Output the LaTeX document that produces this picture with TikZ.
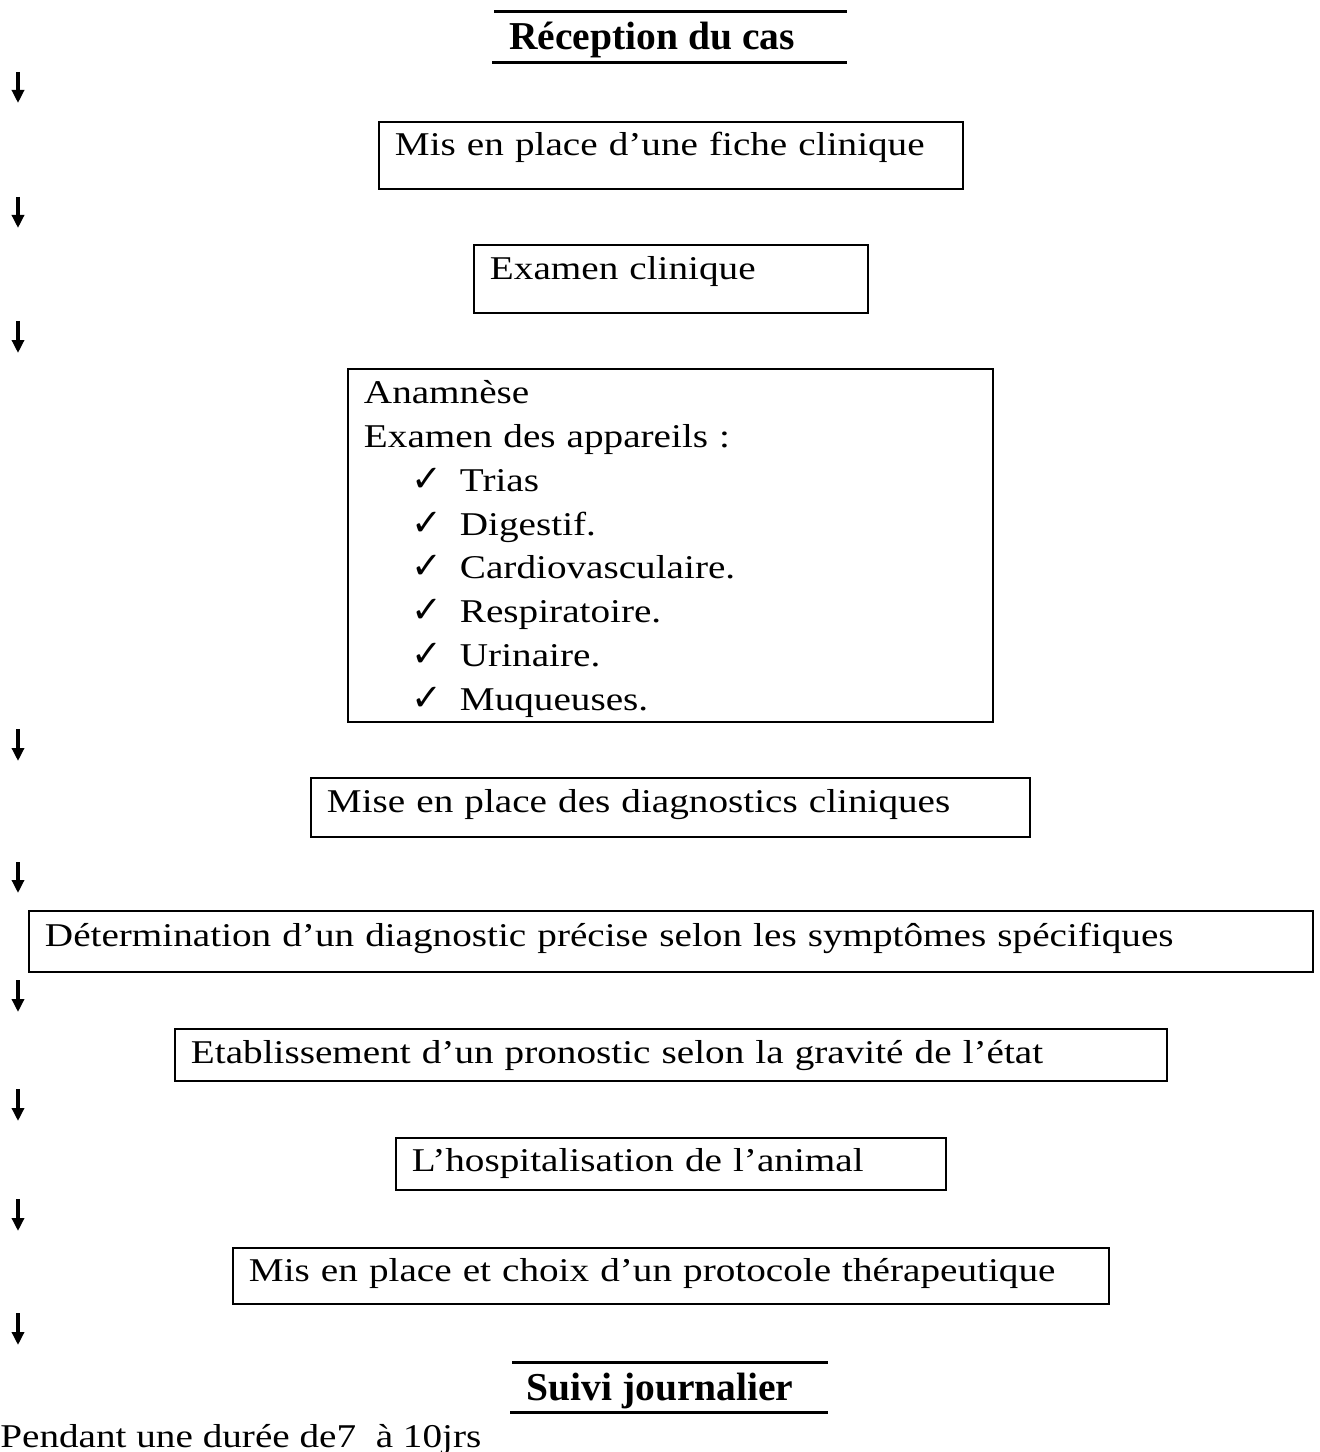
\documentclass[tikz,border=0pt]{standalone}
\usepackage{fontspec}
\setmainfont{Liberation Serif}
\newfontfamily\bodyfont{Liberation Serif}[FakeStretch=1.18]
\newfontfamily\chkfont{DejaVu Sans}
\usetikzlibrary{arrows.meta}

\newcommand{\chkitem}[1]{\hspace*{0.96cm}\makebox[0.96cm][l]{\chkfont\fontsize{21}{24.9}\selectfont ✓}#1}

\begin{document}
\begin{tikzpicture}[
    x=0.02cm, y=-0.02cm,
    stepbox/.style={draw, line width=1.1pt, anchor=north west, inner xsep=0.32cm, inner ysep=0pt, align=left},
    flowarrow/.style={-{Triangle[length=0.26cm, width=0.24cm]}, line width=2pt},
    titlebar/.style={line width=1.7pt},
    titletext/.style={anchor=base, inner sep=0pt, font=\fontsize{22.5}{27}\selectfont\bfseries}
]
\tikzstyle{every node}=[font=\bodyfont\fontsize{18.9}{24.9}\selectfont]

\useasboundingbox (0,0) rectangle (1319,1452);

% --- TITRE ---
\draw[titlebar] (494,12) -- (847,12);
\node[titletext] (titre) at (652,50) {Réception du cas};
\draw[titlebar] (492,63) -- (847,63);

% --- ETAPES ---
\node[stepbox, text width=11.04cm, text height=0.68cm, text depth=0.66cm] (fiche) at (378,121)
    {Mis en place d’une fiche clinique};
\node[stepbox, text width=7.24cm, text height=0.70cm, text depth=0.66cm] (examen) at (473,244)
    {Examen clinique};

\node[stepbox, text width=12.26cm, text height=0.70cm, text depth=6.36cm] (appareils) at (347,368)
    {Anamnèse\\
     Examen des appareils :\\
     \chkitem{Trias}\\
     \chkitem{Digestif.}\\
     \chkitem{Cardiovasculaire.}\\
     \chkitem{Respiratoire.}\\
     \chkitem{Urinaire.}\\
     \chkitem{Muqueuses.}};

\node[stepbox, text width=13.74cm, text height=0.70cm, text depth=0.48cm] (diagnostics) at (310,777)
    {Mise en place des diagnostics cliniques};
\node[stepbox, text width=25.04cm, text height=0.72cm, text depth=0.50cm] (determination) at (28,910)
    {Détermination d’un diagnostic précise selon les symptômes spécifiques};
\node[stepbox, text width=19.20cm, text height=0.70cm, text depth=0.34cm] (pronostic) at (174,1028)
    {Etablissement d’un pronostic selon la gravité de l’état};
\node[stepbox, text width=10.36cm, text height=0.68cm, text depth=0.36cm] (hospitalisation) at (395,1137)
    {L’hospitalisation de l’animal};
\node[stepbox, text width=16.88cm, text height=0.68cm, text depth=0.44cm] (protocole) at (232,1247)
    {Mis en place et choix d’un protocole thérapeutique};

% --- SUIVI ---
\draw[titlebar] (512,1362) -- (828,1362);
\node[titletext] (suivi) at (660,1400) {Suivi journalier};
\draw[titlebar] (510,1412) -- (828,1412);

\node[anchor=base west, inner sep=0pt] (duree) at (0,1447) {Pendant une durée de7\ \ à 10jrs};

% --- FLECHES ---
\foreach \n/\ya/\yb in {1/72/103, 2/197/228, 3/321/353, 4/729/761, 5/862/893,
                        6/980/1012, 7/1089/1121, 8/1199/1231, 9/1313/1345} {
    \coordinate (haut-\n) at (18,\ya);
    \coordinate (bas-\n) at (18,\yb);
    \draw[flowarrow] (haut-\n) -- (bas-\n);
}

\end{tikzpicture}
\end{document}
